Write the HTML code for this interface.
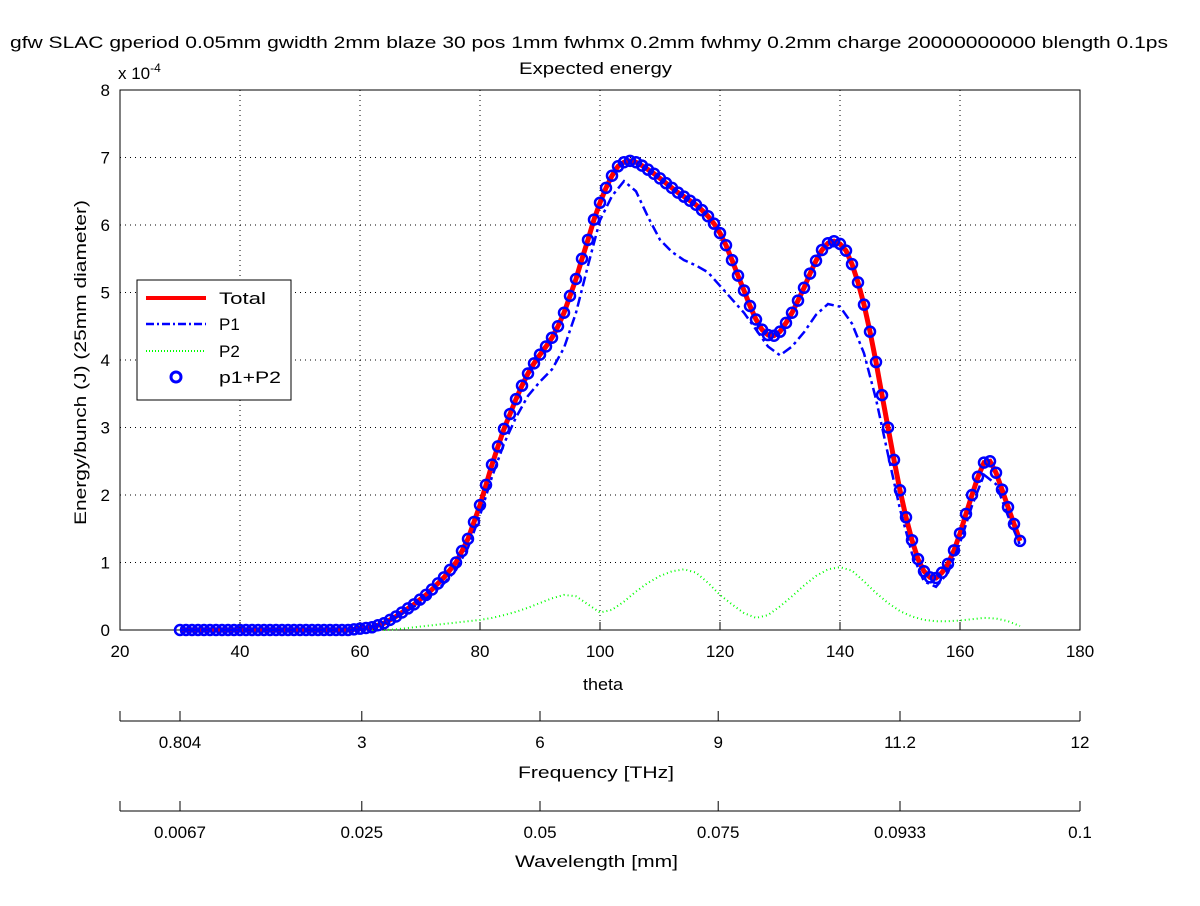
<!DOCTYPE html>
<html><head><meta charset="utf-8"><style>
body{margin:0;background:#fff;}
svg text{font-family:"Liberation Sans",sans-serif;font-size:17px;fill:#000;}
</style></head><body>
<svg id="chart" width="1200" height="901" xmlns="http://www.w3.org/2000/svg">
<rect width="1200" height="901" fill="#fff"/>
<text x="10" y="48" textLength="1158" lengthAdjust="spacingAndGlyphs">gfw SLAC gperiod 0.05mm gwidth 2mm blaze 30 pos 1mm fwhmx 0.2mm fwhmy 0.2mm charge 20000000000 blength 0.1ps</text>
<text x="519" y="74" textLength="153" lengthAdjust="spacingAndGlyphs">Expected energy</text>
<text x="118" y="79" font-size="16">x 10<tspan dy="-7" font-size="12">-4</tspan></text>
<text transform="translate(86,525) rotate(-90)" textLength="325" lengthAdjust="spacingAndGlyphs">Energy/bunch (J) (25mm diameter)</text>
<text x="583" y="690" textLength="40" lengthAdjust="spacingAndGlyphs">theta</text>
<text x="518" y="778" textLength="156" lengthAdjust="spacingAndGlyphs">Frequency [THz]</text>
<text x="515" y="867" textLength="163" lengthAdjust="spacingAndGlyphs">Wavelength [mm]</text>
<g id="grid"></g><g id="axes"></g><g id="series"></g><g id="extra"></g>
<g>
<rect x="137" y="280" width="154" height="120" fill="#fff" stroke="#000"/>
<line x1="146" y1="298" x2="206" y2="298" stroke="#f00" stroke-width="4"/>
<text x="219" y="304" textLength="47" lengthAdjust="spacingAndGlyphs">Total</text>
<line x1="146" y1="324" x2="206" y2="324" stroke="#00f" stroke-width="2.5" stroke-dasharray="8,3,2,3"/>
<text x="219" y="330">P1</text>
<line x1="146" y1="351" x2="206" y2="351" stroke="#0f0" stroke-width="2" stroke-dasharray="1,2"/>
<text x="219" y="357">P2</text>
<circle cx="176" cy="377" r="5" fill="none" stroke="#00f" stroke-width="3"/>
<text x="219" y="383" textLength="62" lengthAdjust="spacingAndGlyphs">p1+P2</text>
</g>
</svg>
<script>
const xTicks=[20,40,60,80,100,120,140,160,180];
const yTicks=[0,1,2,3,4,5,6,7,8];
const freqLabels=["0.804","3","6","9","11.2","12"];
const freqPos=[30,60.3,90,119.7,150,180];
const waveLabels=["0.0067","0.025","0.05","0.075","0.0933","0.1"];
const thetaFine=[];for(let t=30;t<=170;t++)thetaFine.push(t);
const thetaCoarse=[];for(let t=30;t<=170;t+=2)thetaCoarse.push(t);
const total=[0,0,0,0,0,0,0,0,0,0,0,0,0,0,0,0,0,0,0,0,0,0,0,0,0,0,0,0,0,0.01,0.02,0.03,0.04,0.07,0.1,0.15,0.2,0.26,0.32,0.38,0.45,0.52,0.6,0.69,0.78,0.89,1.0,1.17,1.35,1.6,1.85,2.15,2.45,2.72,2.98,3.2,3.42,3.62,3.8,3.95,4.08,4.2,4.33,4.5,4.7,4.95,5.2,5.5,5.78,6.08,6.33,6.55,6.73,6.87,6.93,6.95,6.93,6.88,6.82,6.76,6.69,6.62,6.55,6.48,6.42,6.36,6.3,6.22,6.13,6.02,5.88,5.7,5.48,5.25,5.03,4.8,4.6,4.45,4.37,4.36,4.42,4.55,4.7,4.88,5.07,5.28,5.47,5.63,5.73,5.76,5.72,5.62,5.42,5.15,4.82,4.42,3.97,3.48,3.0,2.52,2.07,1.67,1.33,1.05,0.87,0.78,0.77,0.85,0.98,1.18,1.43,1.72,2.0,2.27,2.48,2.5,2.33,2.08,1.82,1.57,1.32];
const p1=[0,0,0,0,0,0,0,0,0,0,0,0,0,0,0,0.01,0.04,0.1,0.19,0.29,0.4,0.53,0.69,0.89,1.22,1.7,2.27,2.76,3.15,3.47,3.68,3.86,4.18,4.7,5.4,6.07,6.43,6.65,6.5,6.12,5.78,5.6,5.48,5.4,5.3,5.1,4.9,4.7,4.45,4.2,4.07,4.2,4.41,4.67,4.83,4.79,4.54,4.1,3.42,2.6,1.79,1.13,0.72,0.64,0.85,1.29,1.84,2.3,2.16,1.69,1.26];
const p2=[0,0,0,0,0,0,0,0,0,0,0,0,0,0,0,0,0,0,0.01,0.03,0.05,0.07,0.09,0.11,0.13,0.15,0.18,0.22,0.27,0.33,0.4,0.47,0.52,0.5,0.38,0.26,0.3,0.42,0.57,0.7,0.8,0.87,0.9,0.85,0.7,0.52,0.38,0.25,0.18,0.22,0.35,0.5,0.66,0.8,0.9,0.93,0.88,0.72,0.55,0.4,0.28,0.2,0.15,0.13,0.13,0.14,0.16,0.18,0.17,0.13,0.06];

const NS="http://www.w3.org/2000/svg";
const L=120,R=1080,T=90,B=630;
const X=v=>L+(v-20)/160*(R-L);
const Y=v=>B-v/8*(B-T);
function mk(tag,attrs,parent){const e=document.createElementNS(NS,tag);for(const k in attrs)e.setAttribute(k,attrs[k]);document.getElementById(parent).appendChild(e);return e;}

xTicks.forEach(t=>{
  if(t>20&&t<180){const g=mk('line',{x1:X(t),y1:T,x2:X(t),y2:B,stroke:'#000','stroke-dasharray':'1,4'},'grid');
  
  }
  const tk=mk('line',{x1:X(t),y1:B,x2:X(t),y2:B-8,stroke:'#000'},'axes');
  
  
  const tl=mk('text',{x:X(t),y:B+27,'text-anchor':'middle'},'axes');tl.textContent=t;
  
  
});
yTicks.forEach(t=>{
  if(t>0&&t<8){const g=mk('line',{x1:L,y1:Y(t),x2:R,y2:Y(t),stroke:'#000','stroke-dasharray':'1,4'},'grid');
  
  }
  const tl=mk('text',{x:L-10,y:Y(t)+6,'text-anchor':'end'},'axes');tl.textContent=t;
  
  
});
const box=mk('rect',{x:L,y:T,width:R-L,height:B-T,fill:'none',stroke:'#000'},'axes');



function path(xs,ys,attrs,name){
  const d=xs.map((x,i)=>(i?'L':'M')+X(x).toFixed(1)+','+Y(ys[i]).toFixed(1)).join('');
  const p=mk('path',Object.assign({d:d,fill:'none'},attrs),'series');
  
  
}
path(thetaCoarse,p2,{stroke:'#0f0','stroke-width':2,'stroke-dasharray':'1,3'},'p2-line');
path(thetaFine,total,{stroke:'#f00','stroke-width':5},'total-line');
path(thetaCoarse,p1,{stroke:'#00f','stroke-width':2.5,'stroke-dasharray':'10,4,3,4'},'p1-line');
thetaFine.forEach((t,i)=>{
  const c=mk('circle',{cx:X(t),cy:Y(total[i]),r:5,fill:'none',stroke:'#00f','stroke-width':2.5},'series');
  
  
});

function extraAxis(y,labels,name){
  const a=mk('line',{x1:L,y1:y,x2:R,y2:y,stroke:'#000'},'extra');
  
  
  [L,R].forEach(x=>{const e=mk('line',{x1:x,y1:y,x2:x,y2:y-10,stroke:'#000'},'extra');
    
    });
  labels.forEach((lab,i)=>{
    const x=X(freqPos[i]);
    const tk=mk('line',{x1:x,y1:y,x2:x,y2:y-10,stroke:'#000'},'extra');
    
    
    const tl=mk('text',{x:x,y:y+27,'text-anchor':'middle'},'extra');tl.textContent=lab;
    
    
  });
}
extraAxis(721,freqLabels,'frequency');
extraAxis(811,waveLabels,'wavelength');
</script>
</body></html>
